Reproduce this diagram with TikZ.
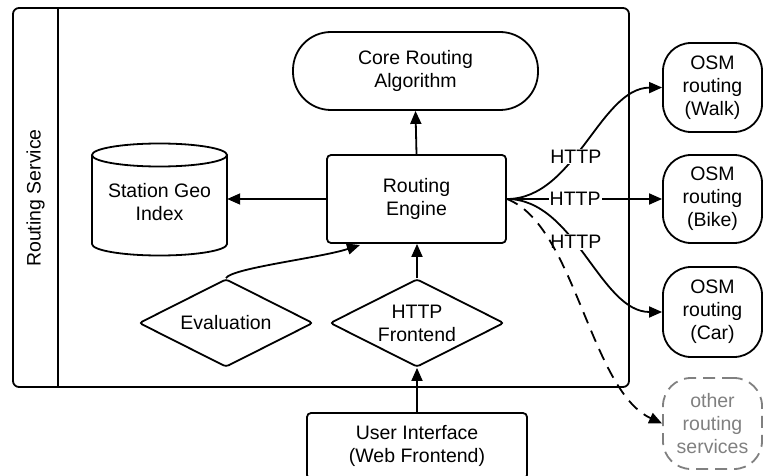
\documentclass[tikz,border=0pt]{standalone}
\usepackage{fontspec}
\setmainfont{Liberation Sans}
\usetikzlibrary{arrows.meta,shapes.geometric}
\definecolor{ghost}{HTML}{808080}
\begin{document}
\begin{tikzpicture}[x=1pt,y=-1pt,
  every node/.style={font=\fontsize{19.5}{23}\selectfont, align=center},
  line/.style={line width=1.8pt},
  arr/.style={line width=1.8pt,-{Triangle[length=13pt,width=11pt]}},
  box/.style={draw,line width=1.8pt,rounded corners=4pt,inner sep=0pt},
  term/.style={draw,line width=1.8pt,rounded corners=28pt,minimum width=99pt,inner sep=0pt},
  dia/.style={draw,line width=1.8pt,diamond,aspect=2,rounded corners=3pt,inner sep=0pt,minimum width=174pt,minimum height=88pt},
  lbl/.style={fill=white,inner sep=1pt},
]
\useasboundingbox (0,0) rectangle (763,476);
\clip (0,0) rectangle (763,476);

% container
\node[draw,line width=1.8pt,rounded corners=6pt,minimum width=616pt,minimum height=379pt,inner sep=0pt] (svc) at (321,197.5) {};
\coordinate (sep) at (58,0);
\draw[line] (sep |- svc.north) -- (sep |- svc.south);
\node[rotate=90] (svclbl) at (35.5,198) {Routing Service};

% nodes
\node[draw,line width=1.8pt,rounded corners=38pt,minimum width=245pt,minimum height=78pt,inner sep=0pt] (core) at (415.5,71) {Core Routing\\Algorithm};
\node[box,minimum width=179pt,minimum height=88pt] (engine) at (416.5,199) {Routing\\Engine};
\node[minimum width=135pt,minimum height=111pt,inner sep=0pt] (station) at (159.5,202) {Station Geo\\Index};
\draw[line] (159.5,155) ellipse [x radius=67.5pt, y radius=11.5pt];
\draw[line] (92,155) -- (92,244) arc[start angle=180,end angle=360,x radius=67.5pt,y radius=11.5pt] -- (227,155);
\node[dia] (eval) at (226,323) {Evaluation};
\node[dia] (http) at (417,323) {HTTP\\Frontend};
\node[box,minimum width=220pt,minimum height=66pt] (ui) at (417,446) {User Interface\\(Web Frontend)};

\node[term,minimum height=89pt] (walk) at (712.5,87.5) {OSM\\routing\\(Walk)};
\node[term,minimum height=88pt] (bike) at (712.5,199) {OSM\\routing\\(Bike)};
\node[term,minimum height=90pt] (car) at (712.5,312) {OSM\\routing\\(Car)};
\node[term,minimum height=91pt,draw=ghost,text=ghost,dash pattern=on 12pt off 7pt] (other) at (712.5,423.5) {other\\routing\\services};

% connectors
\draw[arr] (engine.north) -- (core.south);
\draw[arr] (engine.west) -- (engine.west -| station.east);
\coordinate (e1) at (360,245);
\draw[arr] (eval.north) .. controls (232,268) and (320,258) .. (e1);
\draw[arr] (ui.north) -- (ui.north |- http.south);
\draw[arr] (http.north) -- (http.north |- engine.south);

\draw[arr] (engine.east) .. controls (575,199) and (600,88) .. (walk.west) node[lbl,pos=0.42] {HTTP};
\draw[arr] (engine.east) -- (bike.west) node[lbl,pos=0.44] {HTTP};
\draw[arr] (engine.east) .. controls (575,199) and (600,312) .. (car.west) node[lbl,pos=0.42] {HTTP};
\draw[arr,dash pattern=on 12pt off 8pt] (engine.east) .. controls (575,225) and (590,390) .. (other.west);
\end{tikzpicture}
\end{document}
